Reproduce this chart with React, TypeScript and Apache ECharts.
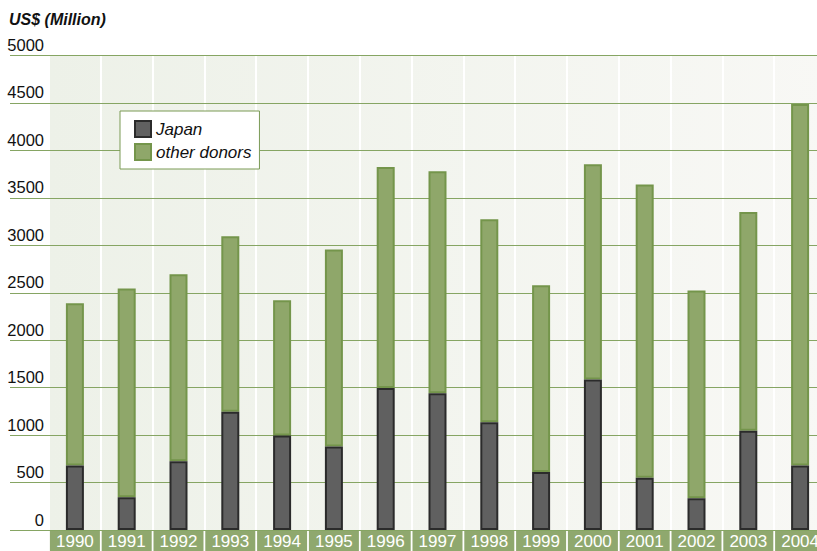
import React, { useEffect, useRef } from "react";
import * as echarts from "echarts";

const years = ["1990","1991","1992","1993","1994","1995","1996","1997","1998","1999","2000","2001","2002","2003","2004"];
const japan = [680, 345, 725, 1245, 995, 880, 1495, 1440, 1135, 610, 1585, 550, 335, 1045, 680];
const otherDonors = [1710, 2200, 1970, 1850, 1425, 2075, 2330, 2340, 2140, 1970, 2270, 3090, 2190, 2305, 3810];
const yMin = 0;
const yMax = 5000;
const yStep = 500;

const FONT = "'Liberation Sans Narrow', 'Arial Narrow', 'Liberation Sans', Arial, sans-serif";

export default function App() {
  const ref = useRef<HTMLDivElement>(null);
  useEffect(() => {
    if (!ref.current) return;
    const chart = echarts.init(ref.current, undefined, { renderer: "svg" });
    chart.setOption({
      animation: false,
      title: {
        text: "US$ (Million)",
        left: 9,
        top: 11,
        padding: 0,
        textStyle: { fontFamily: FONT, fontSize: 16, fontWeight: "bold", fontStyle: "italic", color: "#111" },
      },
      legend: {
        data: ["Japan", "other donors"],
        orient: "vertical",
        left: 120,
        top: 111,
        backgroundColor: "#ffffff",
        borderColor: "#7a9a55",
        borderWidth: 1,
        padding: [9, 8, 8, 14],
        icon: "rect",
        itemWidth: 16,
        itemHeight: 16,
        itemGap: 5,
        textStyle: { fontFamily: FONT, fontSize: 17, fontStyle: "italic", color: "#111" },
      },
      grid: [
        { left: 10, right: -9, top: 55.5, bottom: 21, show: false, outerBoundsMode: "none", containLabel: false },
        {
          left: 49, right: -9, top: 55.5, bottom: 21, show: true, borderWidth: 0,
          outerBoundsMode: "none", containLabel: false,
          backgroundColor: new echarts.graphic.LinearGradient(0, 0, 1, 0, [
            { offset: 0, color: "#edf1e8" },
            { offset: 1, color: "#f8f8f5" },
          ]),
        },
      ],
      xAxis: [
        { gridIndex: 0, type: "value", min: 0, max: 1, show: false },
        {
          gridIndex: 1,
          type: "category",
          data: years,
          axisLine: { show: false },
          axisTick: { show: false },
          splitLine: { show: true, lineStyle: { color: "#ffffff", width: 2 } },
          axisLabel: {
            interval: 0,
            margin: 0,
            color: "#ffffff",
            fontFamily: FONT,
            fontSize: 17,
            backgroundColor: "#8fa86e",
            width: 50,
            height: 22,
            lineHeight: 22,
            align: "center",
            verticalAlign: "top",
          },
        },
      ],
      yAxis: [
        {
          gridIndex: 0, type: "value", min: yMin, max: yMax, interval: yStep, z: 1,
          axisLine: { show: false }, axisTick: { show: false }, axisLabel: { show: false },
          splitLine: { show: true, lineStyle: { color: "#86a563", width: 1 } },
        },
        {
          gridIndex: 1, type: "value", min: yMin, max: yMax, interval: yStep,
          axisLine: { show: false }, axisTick: { show: false },
          splitLine: { show: false },
          axisLabel: {
            margin: 5,
            color: "#111",
            fontFamily: FONT,
            fontSize: 16.5,
            verticalAlign: "bottom",
            padding: [0, 0, 2, 0],
            formatter: (v: number) => String(v),
          },
        },
      ],
      series: [
        {
          name: "Japan",
          type: "bar",
          stack: "total",
          xAxisIndex: 1,
          yAxisIndex: 1,
          barWidth: 18,
          z: 3,
          data: japan,
          itemStyle: { color: "#606060", borderColor: "#2b2b2b", borderWidth: 2 },
        },
        {
          name: "other donors",
          type: "bar",
          stack: "total",
          xAxisIndex: 1,
          yAxisIndex: 1,
          barWidth: 18,
          z: 2,
          data: otherDonors,
          itemStyle: { color: "#8fa76a", borderColor: "#74954b", borderWidth: 2 },
        },
      ],
    });
    return () => chart.dispose();
  }, []);
  return <div ref={ref} style={{ position: "absolute", left: 0, top: 0, width: 817, height: 551 }} />;
}
